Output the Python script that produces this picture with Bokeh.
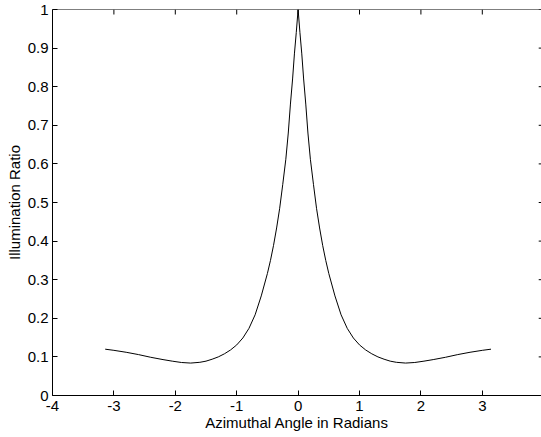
import math
from bokeh.plotting import figure
from bokeh.models import FixedTicker, CustomJSTickFormatter, Range1d, Span
from bokeh.embed import file_html
from bokeh.resources import INLINE

# Curve (azimuthal angle in radians, illumination ratio)
angle = [-3.1416, -3.0, -2.8, -2.6, -2.4, -2.2, -2.05, -1.9, -1.75, -1.6, -1.5, -1.4,
         -1.3, -1.2, -1.1, -1.0, -0.9, -0.8, -0.7, -0.6, -0.5, -0.45, -0.4, -0.35,
         -0.3, -0.25, -0.2, -0.16, -0.125, -0.09, -0.06, -0.03, 0.0,
         0.03, 0.06, 0.09, 0.125, 0.16, 0.2, 0.25, 0.3, 0.35, 0.4, 0.45, 0.5,
         0.6, 0.7, 0.8, 0.9, 1.0, 1.1, 1.2, 1.3, 1.4, 1.5, 1.6, 1.75, 1.9, 2.05,
         2.2, 2.4, 2.6, 2.8, 3.0, 3.1416]
ratio = [0.120, 0.117, 0.112, 0.106, 0.099, 0.093, 0.089, 0.0855, 0.084, 0.086, 0.089, 0.094,
         0.100, 0.108, 0.118, 0.131, 0.149, 0.174, 0.209, 0.258, 0.316, 0.350, 0.389, 0.434,
         0.485, 0.547, 0.612, 0.680, 0.755, 0.820, 0.885, 0.940, 1.0,
         0.940, 0.885, 0.820, 0.755, 0.680, 0.612, 0.547, 0.485, 0.434, 0.389, 0.350, 0.316,
         0.258, 0.209, 0.174, 0.149, 0.131, 0.118, 0.108, 0.100, 0.094, 0.089, 0.086, 0.084, 0.0855, 0.089,
         0.093, 0.099, 0.106, 0.112, 0.117, 0.120]

x_ticks = [-4, -3, -2, -1, 0, 1, 2, 3, 4]
y_ticks = [0, 0.1, 0.2, 0.3, 0.4, 0.5, 0.6, 0.7, 0.8, 0.9, 1.0]
x_lo, x_hi = -4, 4
y_lo, y_hi = 0, 1

FONT = "Liberation Sans"
FS = "15px"

p = figure(width=541, height=437, output_backend="svg", toolbar_location=None,
           x_range=Range1d(x_lo, 3.964), y_range=Range1d(y_lo, y_hi),
           min_border_left=52, min_border_right=0, min_border_top=9, min_border_bottom=42,
           x_axis_label="Azimuthal Angle in Radians", y_axis_label="Illumination Ratio")
p.grid.visible = False
p.outline_line_color = None
p.background_fill_color = "white"
p.border_fill_color = "white"

p.line(angle, ratio, line_color="black", line_width=1)

# box top edge and inward ticks on the top and right sides
p.add_layout(Span(location=y_hi, dimension="width", line_color="black", line_width=1))
p.ray(x=x_ticks, y=[y_hi] * len(x_ticks), length=5, length_units="screen",
      angle=-math.pi / 2, line_color="black", line_width=1)
p.ray(x=[x_hi] * len(y_ticks), y=y_ticks, length=5, length_units="screen",
      angle=math.pi, line_color="black", line_width=1)

xfmt = CustomJSTickFormatter(code="return tick.toFixed(0);")
yfmt = CustomJSTickFormatter(code="var s = tick.toFixed(1); return s.replace(/\\.0$/, '');")

for ax in p.xaxis:
    ax.ticker = FixedTicker(ticks=x_ticks)
    ax.formatter = xfmt
    ax.major_label_standoff = 5
    ax.axis_label_standoff = 0
for ax in p.yaxis:
    ax.ticker = FixedTicker(ticks=y_ticks)
    ax.formatter = yfmt
    ax.major_label_standoff = 4
    ax.axis_label_standoff = 2

for ax in list(p.xaxis) + list(p.yaxis):
    ax.major_tick_in = 5
    ax.major_tick_out = 0
    ax.minor_tick_line_color = None
    ax.axis_line_color = "black"
    ax.major_tick_line_color = "black"
    ax.major_label_text_font = FONT
    ax.major_label_text_font_size = FS
    ax.major_label_text_color = "black"
    ax.axis_label_text_font = FONT
    ax.axis_label_text_font_size = FS
    ax.axis_label_text_font_style = "normal"
    ax.axis_label_text_color = "black"

open("out.html", "w").write(file_html(p, INLINE))
